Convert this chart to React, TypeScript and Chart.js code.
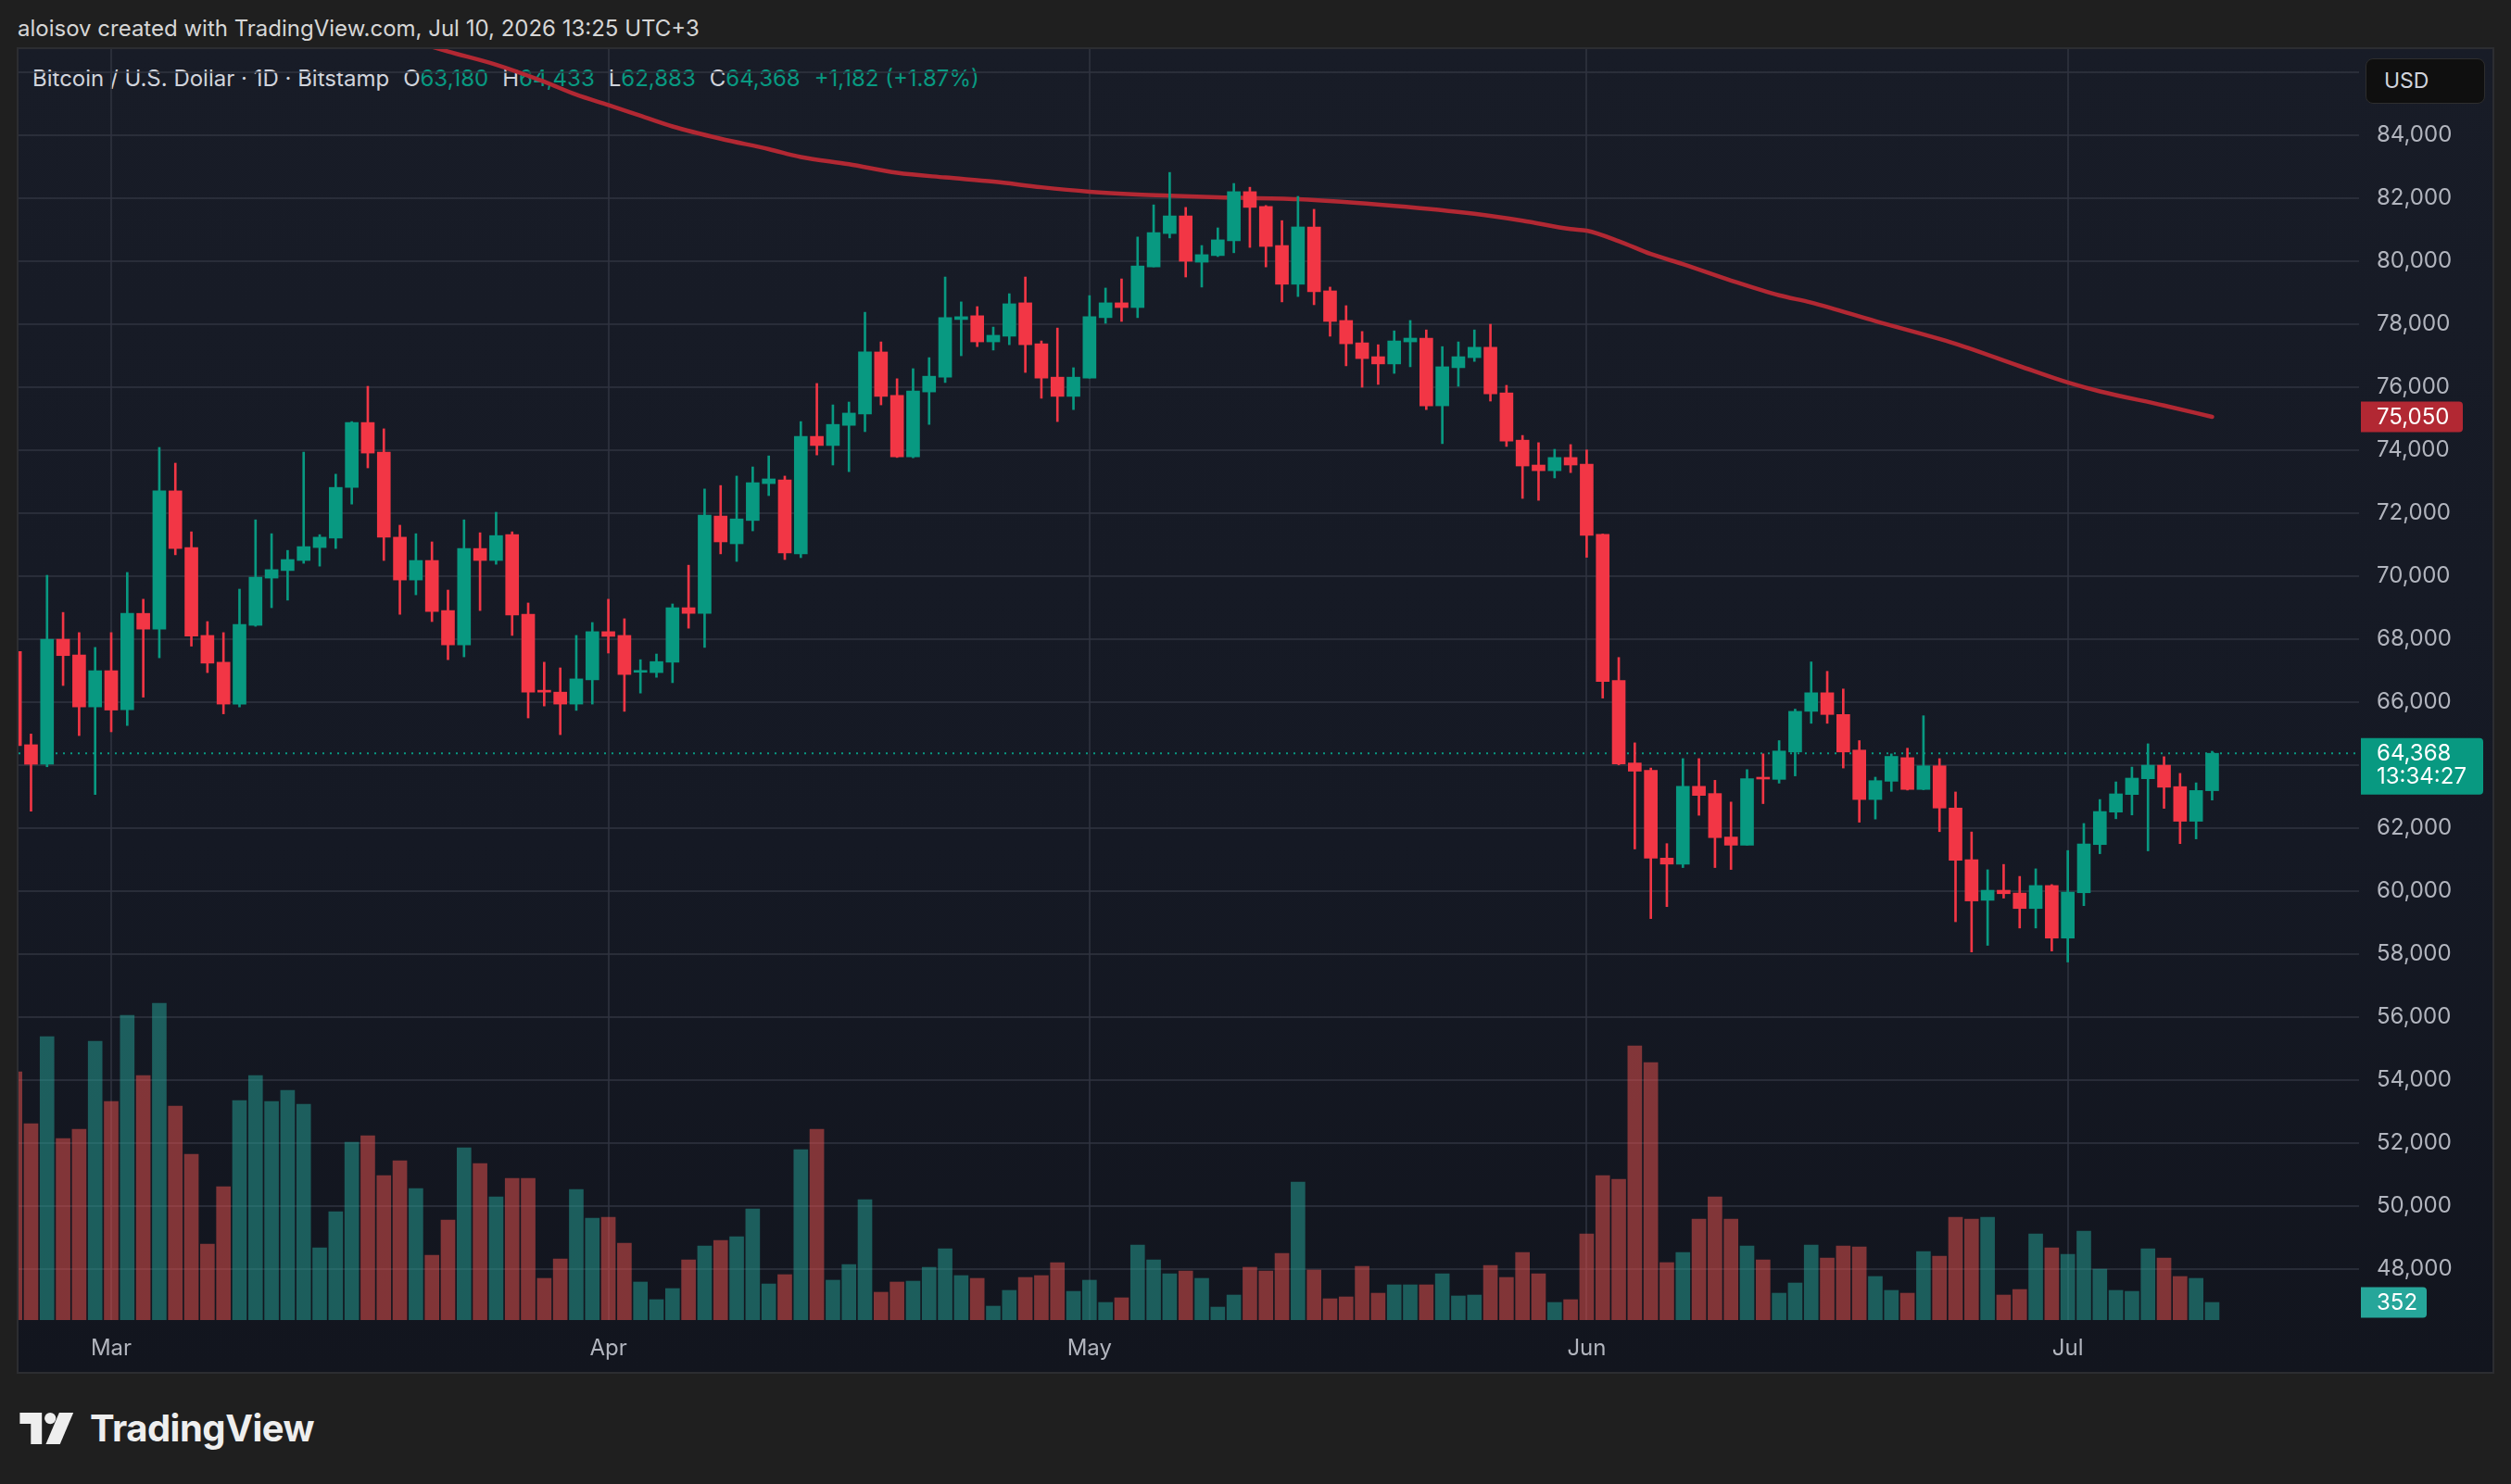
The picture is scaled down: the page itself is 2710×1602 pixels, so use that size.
import React, { useEffect, useRef } from 'react';
import { Chart, registerables } from 'chart.js';

Chart.register(...registerables);

// ---------- data ----------
const firstDay = '2026-02-23';

const opens = [
  67600, 64640, 64020, 67990, 67490, 65840, 66990, 65750, 68810, 68310,
  72700, 70900, 68110, 67260, 65930, 68430, 69930, 70170, 70490, 70900,
  71200, 72810, 74870, 73930, 71230, 69870, 70490, 68900, 67810, 70870,
  70490, 71310, 68780, 66370, 66310, 65930, 66700, 68230, 68110, 66940,
  66930, 67260, 68990, 68810, 71900, 71020, 71760, 72930, 73050, 70700,
  74430, 74140, 74780, 75140, 77110, 75730, 73780, 75840, 76310, 78140,
  78260, 77430, 77610, 78670, 77370, 76310, 75700, 76280, 78200, 78670,
  78520, 79810, 80870, 81430, 79960, 80170, 80640, 82200, 81730, 80490,
  79260, 81080, 79050, 78110, 77400, 76960, 76730, 77430, 77550, 75400,
  76610, 76930, 77260, 75810, 74310, 73520, 73340, 73760, 73550, 71320,
  66680, 64060, 63830, 61040, 60850, 63320, 63090, 61710, 61450, 63600,
  63540, 64410, 65700, 66290, 65600, 64470, 62900, 63480, 64230, 63220,
  63970, 62630, 60990, 59700, 60020, 59930, 59440, 60170, 58500, 59940,
  61470, 62500, 63060, 63560, 63990, 63310, 62210, 63180,
];
const highs = [
  67700, 64980, 70020, 68840, 68200, 67730, 68200, 70110, 69260, 74080,
  73580, 71400, 68550, 68200, 69580, 71780, 71340, 70810, 73930, 71310,
  73230, 74900, 76020, 74670, 71610, 71340, 71080, 69550, 71780, 71370,
  72020, 71400, 69140, 67260, 67080, 68110, 68520, 69260, 68640, 67340,
  67520, 69110, 70340, 72760, 72870, 73170, 73460, 73810, 73170, 74900,
  76110, 75430, 75520, 78370, 77430, 76260, 76580, 76930, 79490, 78700,
  78550, 77900, 78960, 79490, 77460, 77870, 76610, 78900, 79140, 79430,
  80760, 81780, 82810, 81700, 80490, 81050, 82460, 82340, 81760, 81280,
  82050, 81640, 79170, 78580, 77760, 77340, 77780, 78110, 77810, 77280,
  77430, 77810, 77990, 76050, 74460, 74230, 74020, 74170, 74000, 71330,
  67410, 64700, 63900, 61500, 64200, 64200, 63510, 62820, 63850, 64350,
  64770, 65770, 67270, 66970, 66410, 64770, 63610, 64350, 64530, 65560,
  64200, 63140, 61870, 60670, 60840, 60460, 60700, 60200, 61280, 62140,
  62900, 63460, 63930, 64670, 64260, 63730, 63430, 64433,
];
const lows = [
  64500, 62530, 63940, 66520, 64930, 63060, 65050, 65250, 66150, 67400,
  70670, 67770, 66930, 65620, 65840, 68400, 68990, 69230, 70400, 70310,
  70870, 72280, 73430, 70490, 68780, 69400, 68550, 67340, 67430, 68900,
  70370, 68110, 65490, 65870, 64960, 65730, 65930, 67550, 65700, 66280,
  66780, 66610, 68340, 67730, 70700, 70460, 71430, 72550, 70520, 70580,
  73840, 73520, 73310, 74580, 75430, 73760, 73750, 74810, 76140, 76990,
  77280, 77170, 77340, 76460, 75640, 74900, 75280, 76280, 78020, 78080,
  78200, 79810, 80730, 79490, 79170, 80140, 80260, 80430, 79810, 78700,
  78870, 78610, 77610, 76670, 75990, 76080, 76430, 76640, 75280, 74200,
  76020, 76810, 75550, 74110, 72460, 72400, 73110, 73280, 70590, 66120,
  64000, 61330, 59120, 59500, 60740, 62400, 60740, 60680, 61450, 62770,
  63420, 63650, 65320, 65320, 63900, 62180, 62280, 63160, 63200, 63210,
  61880, 59020, 58060, 58270, 59770, 58820, 58820, 58090, 57740, 59530,
  61180, 62290, 62410, 61270, 62620, 61500, 61650, 62883,
];
const closes = [
  64610, 64020, 67990, 67470, 65840, 66990, 65740, 68810, 68310, 72700,
  70870, 68090, 67230, 65930, 68460, 69960, 70200, 70520, 70930, 71230,
  72810, 74870, 73900, 71230, 69870, 70490, 68870, 67810, 70870, 70490,
  71280, 68760, 66310, 66310, 65930, 66730, 68230, 68080, 66870, 66990,
  67280, 68990, 68810, 71930, 71080, 71810, 72960, 73080, 70730, 74430,
  74140, 74810, 75170, 77110, 75700, 73780, 75870, 76340, 78200, 78230,
  77430, 77640, 78640, 77340, 76280, 75700, 76310, 78230, 78670, 78520,
  79840, 80900, 81430, 79990, 80200, 80670, 82200, 81700, 80460, 79260,
  81080, 79020, 78080, 77370, 76900, 76730, 77460, 77550, 75400, 76640,
  76960, 77260, 75780, 74280, 73490, 73340, 73760, 73520, 71290, 66650,
  64030, 63800, 61040, 60850, 63320, 63030, 61690, 61450, 63560, 63550,
  64440, 65700, 66290, 65600, 64410, 62900, 63500, 64270, 63220, 63970,
  62630, 60970, 59680, 60020, 59910, 59440, 60170, 58500, 59960, 61490,
  62520, 63080, 63580, 63990, 63290, 62210, 63186, 64368,
];
const volumes = [
  4965, 3927, 5669, 3631, 3816, 5576, 4372, 6095, 4891, 6336,
  4279, 3316, 1519, 2668, 4390, 4891, 4372, 4594, 4316, 1445,
  2167, 3557, 3686, 2890, 3186, 2631, 1297, 2001, 3446, 3131,
  2464, 2834, 2834, 834, 1223, 2612, 2038, 2056, 1538, 760,
  408, 630, 1204, 1482, 1593, 1667, 2223, 722, 908, 3409,
  3816, 797, 1112, 2408, 556, 760, 778, 1056, 1426, 889,
  834, 278, 593, 852, 889, 1149, 574, 797, 352, 445,
  1501, 1204, 926, 982, 834, 259, 500, 1056, 982, 1334,
  2760, 1000, 426, 463, 1074, 537, 704, 704, 704, 926,
  482, 500, 1093, 852, 1352, 926, 352, 408, 1723, 2890,
  2816, 5483, 5150, 1149, 1352, 2019, 2464, 2019, 1482, 1204,
  537, 741, 1501, 1241, 1482, 1463, 871, 593, 537, 1371,
  1278, 2056, 2019, 2056, 500, 611, 1723, 1445, 1315, 1778,
  1019, 593, 574, 1426, 1241, 871, 834, 352,
];
// moving average line, read at these day positions
const maDays = [24, 27, 30, 33, 35, 37, 39, 41, 44, 47, 49, 52, 55, 58, 61, 64, 67, 70, 72, 75,
  80, 86, 91, 94, 97, 98, 100, 102, 104, 107, 110, 112, 116, 121, 125, 128, 130, 134, 137];
const maValues = [87100, 86650, 86230, 85690, 85280, 84950, 84610, 84270, 83880, 83550,
  83300, 83070, 82800, 82650, 82520, 82340, 82200, 82110, 82070, 82020,
  81960, 81750, 81500, 81280, 81010, 80960, 80630, 80220, 79900, 79380,
  78910, 78680, 78090, 77370, 76660, 76140, 75860, 75410, 75050];

const priceTicks = [48000, 50000, 52000, 54000, 56000, 58000, 60000, 62000, 64000, 66000,
  68000, 70000, 72000, 74000, 76000, 78000, 80000, 82000, 84000, 86000];
const monthStarts = ['2026-03-01', '2026-04-01', '2026-05-01', '2026-06-01', '2026-07-01'];
const monthLabels = ['Mar', 'Apr', 'May', 'Jun', 'Jul'];
const countdown = '13:34:27';

// ---------- helpers ----------
const dayMs = 86400000;
const dayIndex = (iso: string) =>
  Math.round((Date.parse(iso + 'T00:00:00Z') - Date.parse(firstDay + 'T00:00:00Z')) / dayMs);
const monthTickIdx = monthStarts.map(dayIndex);
const fmt = (n: number) => n.toLocaleString('en-US');

const GREEN = '#089981';
const RED = '#f23645';
const VOL_GREEN = 'rgba(38,166,154,0.5)';
const VOL_RED = 'rgba(239,83,80,0.5)';
const GRID = 'rgba(48,52,64,0.75)';
const AXIS_TEXT = '#b2b5be';
const FONT = 'Inter, "Noto Sans", sans-serif';

const X_MIN = 0.222;
const X_MAX = 146.16;
const Y_MIN = 46374;
const Y_MAX = 86726;
const VOL_MAX = 25418;

const last = closes.length - 1;
const isUp = (i: number) => closes[i] >= opens[i];

const valueBoxes = {
  id: 'valueBoxes',
  afterDraw(chart: any) {
    const { ctx, chartArea, scales } = chart;
    const x0 = chartArea.right + 2;
    const tx = chartArea.right + 19;
    ctx.save();
    ctx.font = `24px ${FONT}`;
    ctx.textBaseline = 'middle';
    ctx.textAlign = 'left';

    const maLast = maValues[maValues.length - 1];
    const yMa = scales.y.getPixelForValue(maLast);
    ctx.fillStyle = '#b22833';
    ctx.beginPath();
    ctx.roundRect(x0, yMa - 16.5, 110, 33, [0, 4, 4, 0]);
    ctx.fill();
    ctx.fillStyle = '#ffffff';
    ctx.fillText(fmt(maLast), tx, yMa + 1);

    const yC = scales.y.getPixelForValue(closes[last]);
    ctx.fillStyle = GREEN;
    ctx.beginPath();
    ctx.roundRect(x0, yC - 16.5, 132, 61, [0, 4, 4, 0]);
    ctx.fill();
    ctx.fillStyle = '#ffffff';
    ctx.fillText(fmt(closes[last]), tx, yC + 1);
    ctx.fillText(countdown, tx, yC + 26);

    const yV = scales.yVol.getPixelForValue(volumes[last]);
    ctx.fillStyle = '#26a69a';
    ctx.beginPath();
    ctx.roundRect(x0, yV - 16.5, 71, 33, [0, 4, 4, 0]);
    ctx.fill();
    ctx.fillStyle = '#ffffff';
    ctx.fillText(fmt(volumes[last]), tx, yV + 1);
    ctx.restore();
  },
};

function CandleChart() {
  const ref = useRef<HTMLCanvasElement | null>(null);
  useEffect(() => {
    if (!ref.current) return;
    const candleColors = opens.map((_, i) => (isUp(i) ? GREEN : RED));
    const volColors = opens.map((_, i) => (isUp(i) ? VOL_GREEN : VOL_RED));
    const chart = new Chart(ref.current, {
      type: 'bar',
      data: {
        datasets: [
          {
            type: 'bar',
            label: 'body',
            data: opens.map((o, i) => ({ x: i, y: [o, closes[i]] })) as any,
            backgroundColor: candleColors,
            barThickness: 14,
            minBarLength: 2,
            grouped: false,
            yAxisID: 'y',
            order: 0,
            clip: 0 as any,
          },
          {
            type: 'bar',
            label: 'wick',
            data: lows.map((l, i) => ({ x: i, y: [l, highs[i]] })) as any,
            backgroundColor: candleColors,
            barThickness: 2,
            grouped: false,
            yAxisID: 'y',
            order: 1,
            clip: 0 as any,
          },
          {
            type: 'line',
            label: 'MA',
            data: maDays.map((d, i) => ({ x: d, y: maValues[i] })) as any,
            borderColor: '#b22833',
            borderWidth: 4.5,
            pointRadius: 0,
            cubicInterpolationMode: 'monotone',
            borderCapStyle: 'round',
            yAxisID: 'y',
            order: 2,
          },
          {
            type: 'line',
            label: 'last',
            data: [{ x: X_MIN, y: closes[last] }, { x: X_MAX, y: closes[last] }] as any,
            borderColor: GREEN,
            borderWidth: 2,
            borderDash: [2, 6],
            pointRadius: 0,
            yAxisID: 'y',
            order: 3,
          },
          {
            type: 'bar',
            label: 'volume',
            data: volumes.map((v, i) => ({ x: i, y: v })) as any,
            backgroundColor: volColors,
            barThickness: 15,
            grouped: false,
            yAxisID: 'yVol',
            order: 4,
            clip: 0 as any,
          },
        ] as any,
      },
      options: {
        animation: false,
        responsive: false,
        devicePixelRatio: 1,
        layout: { padding: 0 },
        plugins: { legend: { display: false }, tooltip: { enabled: false } },
        scales: {
          x: {
            type: 'linear',
            min: X_MIN,
            max: X_MAX,
            offset: false,
            border: { display: false },
            grid: { color: GRID, lineWidth: 2, drawTicks: false, offset: false },
            afterBuildTicks: (scale: any) => {
              scale.ticks = monthTickIdx.map((v) => ({ value: v }));
            },
            afterFit: (scale: any) => {
              scale.height = 56;
              scale.paddingLeft = 0;
              scale.paddingRight = 0;
            },
            ticks: {
              autoSkip: false,
              maxRotation: 0,
              padding: 16,
              color: AXIS_TEXT,
              font: { family: FONT, size: 24 },
              callback: (_v: any, i: number) => monthLabels[i],
            },
          },
          y: {
            type: 'linear',
            position: 'right',
            min: Y_MIN,
            max: Y_MAX,
            border: { display: false },
            grid: { color: GRID, lineWidth: 2, drawTicks: false },
            afterBuildTicks: (scale: any) => {
              scale.ticks = priceTicks.map((v) => ({ value: v }));
            },
            afterFit: (scale: any) => {
              scale.width = 144;
              scale.paddingTop = 0;
              scale.paddingBottom = 0;
            },
            ticks: {
              padding: 19,
              color: AXIS_TEXT,
              font: { family: FONT, size: 24 },
              callback: (v: any) => fmt(Number(v)),
            },
          },
          yVol: {
            type: 'linear',
            display: false,
            min: 0,
            max: VOL_MAX,
          },
        },
      } as any,
      plugins: [valueBoxes as any],
    });
    return () => chart.destroy();
  }, []);
  return <canvas ref={ref} width={2670} height={1428} style={{ width: 2670, height: 1428, display: 'block' }} />;
}

function Logo() {
  return (
    <svg width="62" height="34" viewBox="0 0 36 20" style={{ display: 'block' }}>
      <path d="M0 0 H14 V20 H7 V7 H0 Z" fill="#eeeeee" />
      <circle cx="19.3" cy="3.6" r="3.6" fill="#eeeeee" />
      <path d="M25 0 H34 L25.5 20 H16.5 Z" fill="#eeeeee" />
    </svg>
  );
}

export default function App() {
  const change = closes[last] - closes[last - 1];
  const pct = (change / closes[last - 1]) * 100;
  const lbl = { color: '#d1d4dc' };
  const val = { color: GREEN };
  return (
    <div
      style={{
        position: 'fixed',
        left: 0,
        top: 0,
        width: 2710,
        height: 1602,
        background: '#1f1f1f',
        overflow: 'hidden',
        fontFamily: FONT,
      }}
    >
      <div style={{ position: 'absolute', left: 19, top: 16, fontSize: 24, lineHeight: '30px', color: '#d6d6d6' }}>
        aloisov created with TradingView.com, Jul 10, 2026 13:25 UTC+3
      </div>
      <div
        style={{
          position: 'absolute',
          left: 18,
          top: 51,
          width: 2674,
          height: 1432,
          boxSizing: 'border-box',
          border: '2px solid #2c2d31',
          background: 'linear-gradient(180deg, #181c27 0%, #151924 60%, #12151e 100%)',
        }}
      />
      <div
        style={{
          position: 'absolute',
          left: 35,
          top: 70,
          fontSize: 24,
          lineHeight: '30px',
          whiteSpace: 'pre',
          display: 'flex',
          zIndex: 1,
        }}
      >
        <span style={lbl}>Bitcoin / U.S. Dollar · 1D · Bitstamp</span>
        <span style={{ marginLeft: 15 }}>
          <span style={lbl}>O</span>
          <span style={val}>{fmt(opens[last])}</span>
        </span>
        <span style={{ marginLeft: 15 }}>
          <span style={lbl}>H</span>
          <span style={val}>{fmt(highs[last])}</span>
        </span>
        <span style={{ marginLeft: 15 }}>
          <span style={lbl}>L</span>
          <span style={val}>{fmt(lows[last])}</span>
        </span>
        <span style={{ marginLeft: 15 }}>
          <span style={lbl}>C</span>
          <span style={val}>{fmt(closes[last])}</span>
        </span>
        <span style={{ marginLeft: 15, ...val }}>
          {(change >= 0 ? '+' : '') + fmt(change)} ({(pct >= 0 ? '+' : '') + pct.toFixed(2)}%)
        </span>
      </div>
      <div style={{ position: 'absolute', left: 20, top: 53, zIndex: 2 }}>
        <CandleChart />
      </div>
      <div
        style={{
          position: 'absolute',
          left: 2553,
          top: 63,
          width: 129,
          height: 49,
          boxSizing: 'border-box',
          background: '#0f0f0f',
          border: '1px solid #2e2e2e',
          borderRadius: 8,
          color: '#d1d4dc',
          fontSize: 23,
          lineHeight: '47px',
          paddingLeft: 19,
          zIndex: 3,
        }}
      >
        USD
      </div>
      <div style={{ position: 'absolute', left: 21, top: 1524, display: 'flex', alignItems: 'center' }}>
        <Logo />
        <span style={{ marginLeft: 14, fontSize: 40, fontWeight: 700, color: '#eeeeee', lineHeight: '36px', letterSpacing: -0.5 }}>
          TradingView
        </span>
      </div>
    </div>
  );
}
